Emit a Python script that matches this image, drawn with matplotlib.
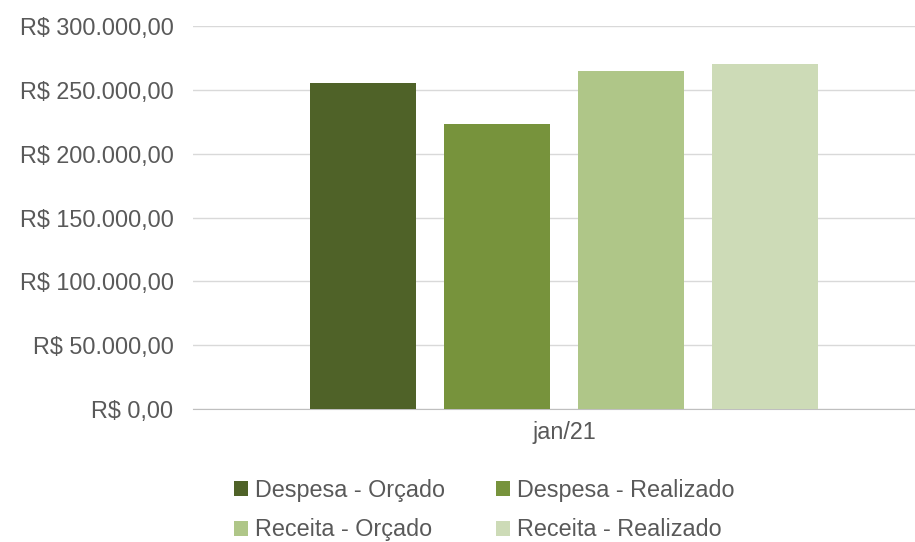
import matplotlib.pyplot as plt
from matplotlib.patches import Patch
from matplotlib.ticker import FuncFormatter

plt.rcParams["font.family"] = ["Liberation Sans", "DejaVu Sans"]

# data
category = "jan/21"
series = ["Despesa - Orçado", "Despesa - Realizado", "Receita - Orçado", "Receita - Realizado"]
values = [255000, 223000, 265000, 270000]
colors = ["#4F6228", "#77933C", "#AFC688", "#CDDBB7"]
yticks = [0, 50000, 100000, 150000, 200000, 250000, 300000]

W, H = 915, 542
fig = plt.figure(figsize=(W / 100, H / 100), dpi=100)
ax = fig.add_axes([193 / W, 1 - 409 / H, (915 - 193) / W, (409 - 26) / H])

px = 1 / 742  # data units per pixel
step = 134 * px
width = 106 * px
offsets = [(i - 1.5) * step for i in range(len(values))]
for off, v, c, name in zip(offsets, values, colors, series):
    ax.bar(off, v, width=width, color=c, label=name, zorder=3)

ax.set_xlim((193 - 564) * px, (915 - 564) * px)
ax.set_ylim(0, 300000)
ax.set_xticks([0])
ax.set_xticklabels([category])
ax.set_yticks(yticks)


def brl(v, pos):
    s = f"{v:,.2f}".replace(",", "X").replace(".", ",").replace("X", ".")
    return "R$ " + s


ax.yaxis.set_major_formatter(FuncFormatter(brl))
ax.grid(axis="y", color="#D9D9D9", linewidth=1, zorder=0)
for side in ["top", "right", "left"]:
    ax.spines[side].set_visible(False)
ax.spines["bottom"].set_color("#BFBFBF")
ax.tick_params(axis="both", length=0, colors="#595959", labelsize=16.8)
ax.tick_params(axis="y", pad=14)
ax.tick_params(axis="x", pad=9)

# legend fills column by column, so reorder to read row by row
order = [0, 2, 1, 3]
handles = [Patch(facecolor=colors[i], label=series[i]) for i in order]
fig.legend(handles=handles, ncol=2, loc="center", bbox_to_anchor=(484 / W, 1 - 510 / H),
           frameon=False, fontsize=16.8, labelcolor="#595959", handlelength=0.6,
           handleheight=0.6, handletextpad=0.3, columnspacing=2.2, labelspacing=0.72,
           borderpad=0)

fig.savefig("out.png", dpi=100)
